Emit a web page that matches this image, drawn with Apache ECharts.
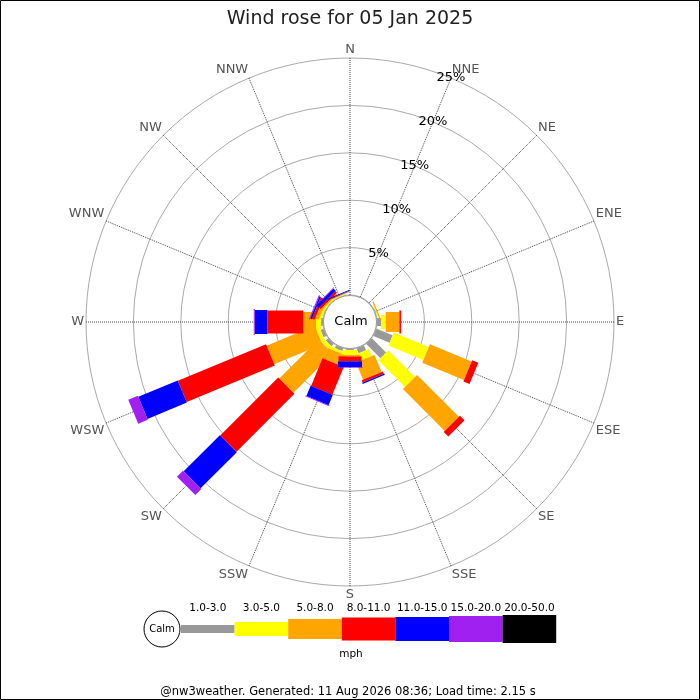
<!DOCTYPE html>
<html>
<head>
<meta charset="utf-8">
<script src="https://cdn.jsdelivr.net/npm/echarts@6/dist/echarts.min.js"></script>
<style>
  html, body { margin: 0; padding: 0; background: #fff; }
  #windRose { width: 700px; height: 700px; }
</style>
</head>
<body>
<div id="windRose"></div>
<script>
var directions = ['N','NNE','NE','ENE','E','ESE','SE','SSE','S','SSW','SW','WSW','W','WNW','NW','NNW'];
var speedBins = ['1.0-3.0','3.0-5.0','5.0-8.0','8.0-11.0','11.0-15.0','15.0-20.0','20.0-50.0'];
// percent of the day, per direction (N ... NNW)
var mph1to3   = [0, 0, 0, 0.05, 0.42, 1.85, 2.12, 0.55, 0.10, 0.30, 0.35, 0.35, 0.20, 0.05, 0,    0];
var mph3to5   = [0, 0, 0, 0.10, 0.50, 3.98, 3.98, 0.80, 0.52, 0.30, 0.45, 0.40, 0.54, 0.25, 0.15, 0.10];
var mph5to8   = [0, 0, 0, 0.13, 1.44, 4.77, 6.24, 1.95, 0.16, 1.20, 5.85, 5.49, 1.35, 0.40, 0.15, 0.05];
var mph8to11  = [0, 0, 0, 0,    0.18, 0.70, 0.69, 0.25, 0.52, 3.15, 8.65, 10.06, 3.77, 0.30, 0.25, 0.07];
var mph11to15 = [0, 0, 0, 0,    0,    0,    0,    0.15, 0.63, 1.17, 5.40, 4.50, 1.34, 0.17, 0.35, 0.10];
var mph15to20 = [0, 0, 0, 0,    0,    0,    0,    0,    0.05, 0.08, 0.90, 1.10, 0.10, 0.10, 0.05, 0];
var mph20to50 = [0, 0, 0, 0,    0,    0,    0,    0,    0,    0,    0,    0,    0,    0,    0,    0];
var pctMax = 25, pctStep = 5;

var binValues = [mph1to3, mph3to5, mph5to8, mph8to11, mph11to15, mph15to20, mph20to50];
var binColors = ['#999999', '#ffff00', '#ffa500', '#ff0000', '#0000ff', '#a020f0', '#000000'];
var binWidths = [8, 14, 20, 23, 24, 26, 28];
var font = 'DejaVu Sans';

// stacked segments [start, dir, end]
var base = directions.map(function () { return 0; });
var series = binValues.map(function (vals, b) {
    var data = [];
    vals.forEach(function (v, i) {
        if (v > 0) data.push([base[i], i, base[i] + v]);
        base[i] += v;
    });
    return {
        name: speedBins[b],
        type: 'custom',
        coordinateSystem: 'polar',
        polarIndex: 0,
        z: 3,
        data: data,
        renderItem: function (params, api) {
            var i = api.value(1);
            var p0 = api.coord([api.value(0), i]);
            var p1 = api.coord([api.value(2), i]);
            var cx = params.coordSys.cx, cy = params.coordSys.cy;
            var dx = p1[0] - cx, dy = p1[1] - cy;
            var len = Math.sqrt(dx * dx + dy * dy);
            var hw = binWidths[b] / 2;
            var nx = -dy / len * hw, ny = dx / len * hw;
            return {
                type: 'polygon',
                shape: { points: [
                    [p0[0] + nx, p0[1] + ny], [p1[0] + nx, p1[1] + ny],
                    [p1[0] - nx, p1[1] - ny], [p0[0] - nx, p0[1] - ny]
                ] },
                style: { fill: binColors[b] }
            };
        }
    };
});

// legend pieces
var legendItems = [];
var lx = 181, segW = 53.6;
speedBins.forEach(function (name, b) {
    var x0 = lx + b * segW;
    legendItems.push({
        type: 'rect', shape: { x: x0, y: 629 - binWidths[b] / 2, width: segW, height: binWidths[b] },
        style: { fill: binColors[b] }
    });
    legendItems.push({
        type: 'text', x: x0 + segW / 2, y: 608,
        style: { text: name, fontSize: 10.5, fontFamily: font, fill: '#000', align: 'center', verticalAlign: 'middle' }
    });
});

var chart = echarts.init(document.getElementById('windRose'));
var option = {
    animation: false,
    backgroundColor: '#fff',
    title: {
        text: 'Wind rose for 05 Jan 2025',
        left: 'center', top: 5,
        textStyle: { fontFamily: font, fontSize: 19, fontWeight: 'normal', color: '#222' }
    },
    polar: [
        { center: [350, 322], radius: [27, 264] },
        { center: [350, 322], radius: [27, 264] }
    ],
    angleAxis: [
        {
            polarIndex: 0,
            type: 'category',
            data: directions,
            boundaryGap: false,
            startAngle: 90,
            clockwise: true,
            axisLine: { show: false },
            axisTick: { show: false },
            axisLabel: { margin: 2, color: '#555', fontSize: 13, fontFamily: font },
            splitLine: { show: true, lineStyle: { color: '#444', width: 1, type: 'dotted' } }
        },
        {
            polarIndex: 1,
            type: 'value',
            min: 0, max: 360,
            startAngle: 67.5,
            axisLine: { show: false },
            axisTick: { show: false },
            axisLabel: { show: false },
            splitLine: { show: false }
        }
    ],
    radiusAxis: [
        {
            polarIndex: 0,
            min: 0, max: pctMax, interval: pctStep,
            axisLine: { show: false },
            axisTick: { show: false },
            axisLabel: { show: false },
            splitLine: { show: false }
        },
        {
            polarIndex: 1,
            min: 0, max: pctMax, interval: pctStep,
            axisLine: { show: false },
            axisTick: { show: false },
            splitLine: { show: true, lineStyle: { color: '#aaa', width: 1 } },
            axisLabel: {
                margin: 0, align: 'center', verticalAlign: 'middle',
                color: '#000', fontSize: 13, fontFamily: font,
                formatter: function (v) { return v === 0 ? '' : v + '%'; }
            }
        }
    ],
    series: series,
    graphic: [
        {
            type: 'rect', z: 100, silent: true,
            shape: { x: 0.5, y: 0.5, width: 699, height: 699 },
            style: { fill: null, stroke: '#000', lineWidth: 1 }
        },
        {
            type: 'circle', z: 50, shape: { cx: 350, cy: 322, r: 26.5 },
            style: { fill: '#fff', stroke: '#999', lineWidth: 1 }
        },
        {
            type: 'text', z: 51, x: 351, y: 322,
            style: { text: 'Calm', fontSize: 13, fontFamily: font, fill: '#000', align: 'center', verticalAlign: 'middle' }
        },
        {
            type: 'group', z: 50,
            children: [
                {
                    type: 'circle', shape: { cx: 162, cy: 629, r: 18 },
                    style: { fill: '#fff', stroke: '#000', lineWidth: 1 }
                },
                {
                    type: 'text', x: 162, y: 629,
                    style: { text: 'Calm', fontSize: 10, fontFamily: font, fill: '#000', align: 'center', verticalAlign: 'middle' }
                },
                {
                    type: 'text', x: 351, y: 654,
                    style: { text: 'mph', fontSize: 10.5, fontFamily: font, fill: '#000', align: 'center', verticalAlign: 'middle' }
                },
                {
                    type: 'text', x: 348, y: 692,
                    style: { text: '@nw3weather. Generated: 11 Aug 2026 08:36; Load time: 2.15 s', fontSize: 11.5, fontFamily: font, fill: '#000', align: 'center', verticalAlign: 'middle' }
                }
            ].concat(legendItems)
        }
    ]
};
chart.setOption(option);
</script>
</body>
</html>
